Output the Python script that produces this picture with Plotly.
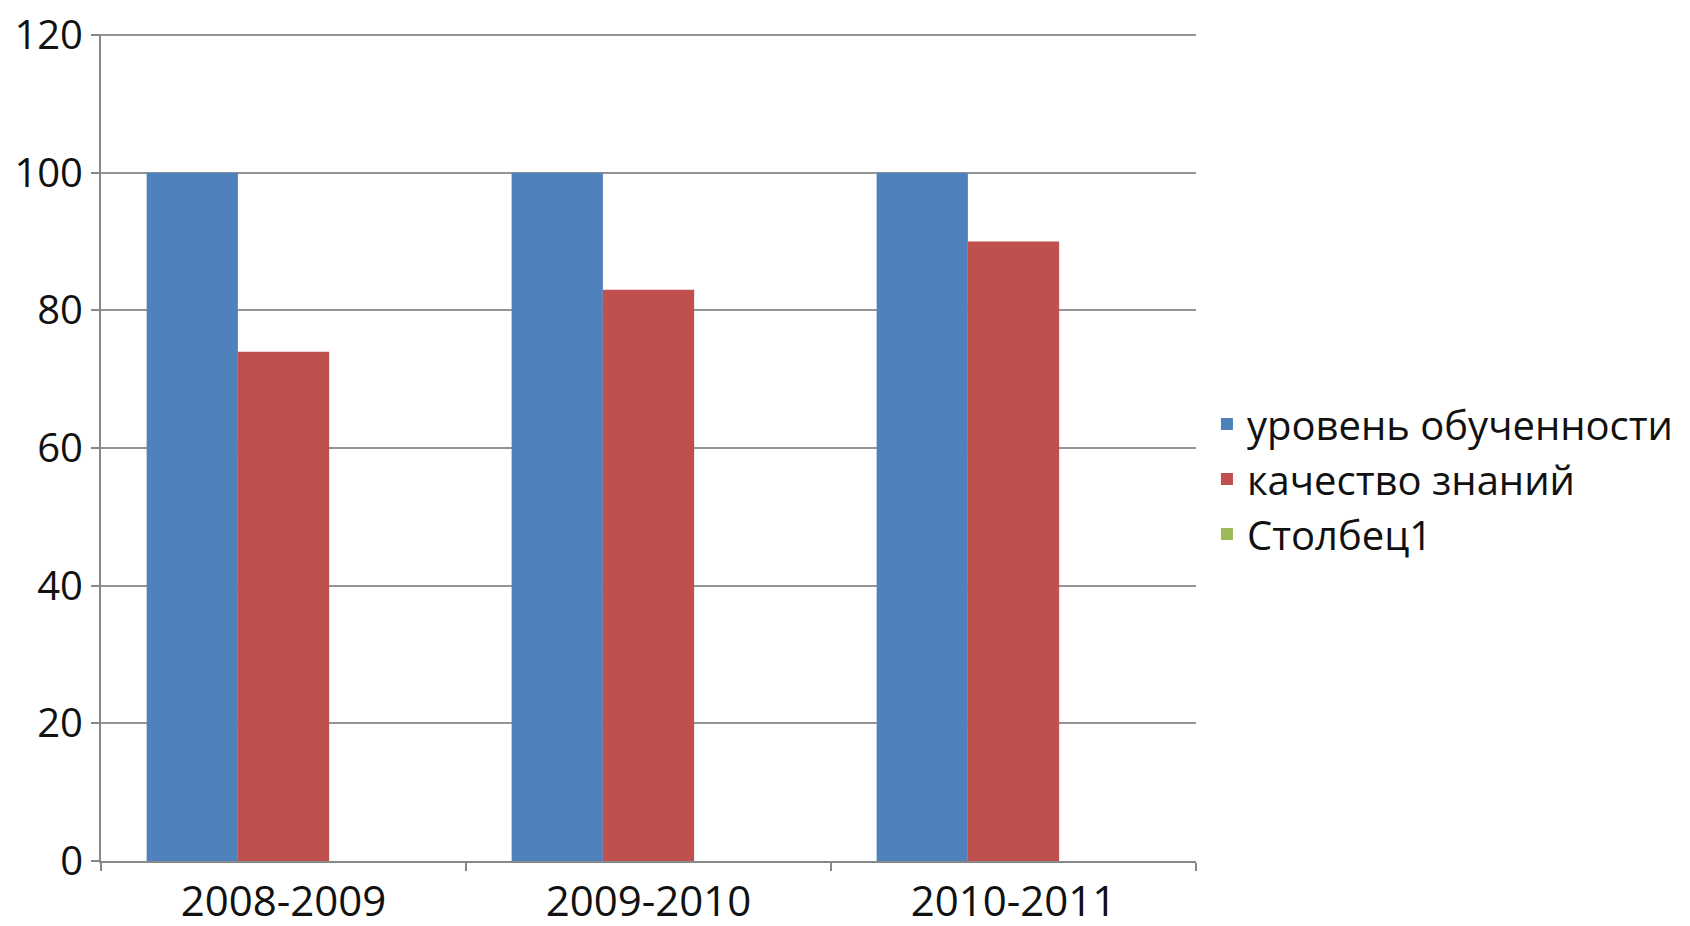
import plotly.graph_objects as go

categories = ["2008-2009", "2009-2010", "2010-2011"]
series_names = ["уровень обученности", "качество знаний", "Столбец1"]
level = [100, 100, 100]
quality = [74, 83, 90]
col1 = [None, None, None]
colors = ["#4F81BD", "#C0504D", "#9BBB59"]
y_ticks = [0, 20, 40, 60, 80, 100, 120]

fig = go.Figure()
for name, vals, c in zip(series_names, [level, quality, col1], colors):
    fig.add_trace(go.Bar(x=categories, y=vals, name=name, marker=dict(color=c, line=dict(width=0))))

font = "Open Sans, DejaVu Sans, sans-serif"
fig.update_layout(
    width=1690, height=926,
    barmode="group", bargap=0.25, bargroupgap=0,
    plot_bgcolor="white", paper_bgcolor="white",
    margin=dict(l=93, r=502, t=26, b=73, autoexpand=False),
    font=dict(family=font, size=42, color="#111"),
    showlegend=True,
    legend=dict(x=1.01, y=0.462, xanchor="left", yanchor="middle",
                font=dict(size=40, color="#111"), itemwidth=30, tracegroupgap=0,
                bgcolor="rgba(0,0,0,0)"),
    xaxis=dict(showline=True, linecolor="#888", linewidth=2, ticks="outside",
               tickson="boundaries", ticklen=8, tickcolor="#888", tickwidth=2,
               tickfont=dict(size=42), showgrid=False, automargin=False,
               ticklabelstandoff=3),
    yaxis=dict(range=[0, 120.15], tickvals=y_ticks, showline=True, linecolor="#888",
               linewidth=2, ticks="outside", ticklen=8, tickcolor="#888", tickwidth=2,
               showgrid=True, gridcolor="#949494", gridwidth=2, zeroline=False,
               tickfont=dict(size=40), automargin=False, ticklabeloverflow="allow"),
)
fig.write_html("out.html")
